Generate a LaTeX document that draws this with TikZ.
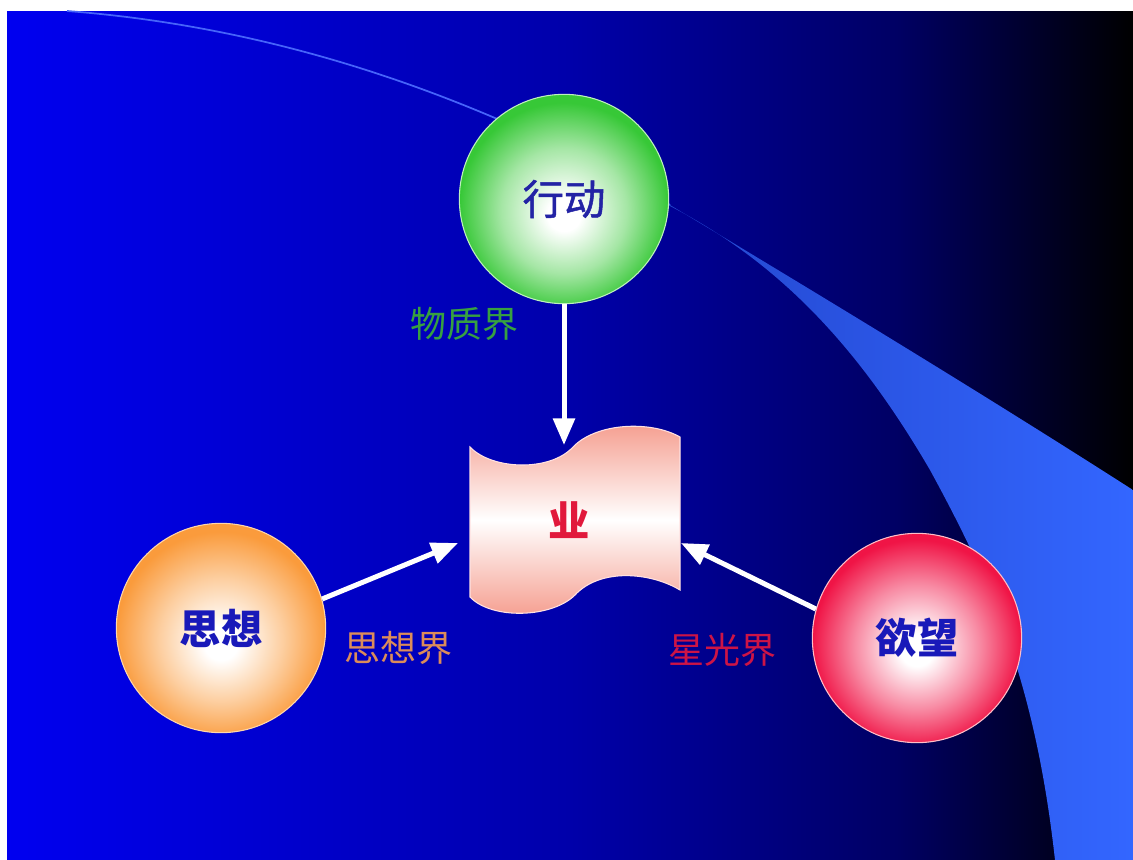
\documentclass[tikz,border=0pt]{standalone}
\usepackage{fontspec}
\newfontfamily\cjk{Noto Sans CJK SC}
\newfontfamily\cjkm{Noto Sans CJK SC}[FakeBold=1.2]
\usetikzlibrary{arrows.meta}
\definecolor{bgA}{RGB}{0,0,240}
\definecolor{bgB}{RGB}{0,0,170}
\definecolor{bgC}{RGB}{0,0,100}
\definecolor{bgD}{RGB}{0,0,0}
\definecolor{bandA}{RGB}{35,70,205}
\definecolor{bandB}{RGB}{51,102,255}
\definecolor{thinline}{RGB}{70,100,250}
\definecolor{ballG}{RGB}{55,200,55}
\definecolor{ballO}{RGB}{250,155,60}
\definecolor{ballR}{RGB}{240,20,70}
\definecolor{edgeG}{RGB}{190,240,190}
\definecolor{edgeO}{RGB}{255,215,170}
\definecolor{edgeR}{RGB}{255,190,200}
\definecolor{paperpink}{RGB}{245,155,140}
\definecolor{paperedge}{RGB}{255,225,225}
\definecolor{txtblue}{RGB}{25,25,185}
\definecolor{txtred}{RGB}{225,25,60}
\definecolor{labG}{RGB}{55,160,65}
\definecolor{labO}{RGB}{220,140,90}
\definecolor{labR}{RGB}{205,20,70}
\pgfdeclarehorizontalshading{bgshade}{100bp}{color(0bp)=(bgA); color(25bp)=(bgA); color(50bp)=(bgB); color(64.5bp)=(bgC); color(75bp)=(bgD); color(100bp)=(bgD)}
\pgfdeclareradialshading{ballgreen}{\pgfpoint{0bp}{-4bp}}{color(0bp)=(white); color(4bp)=(white); color(15bp)=(ballG!45!white); color(25bp)=(ballG); color(50bp)=(ballG)}
\pgfdeclareradialshading{ballorange}{\pgfpoint{0bp}{-4bp}}{color(0bp)=(white); color(4bp)=(white); color(15bp)=(ballO!50!white); color(25bp)=(ballO); color(50bp)=(ballO)}
\pgfdeclareradialshading{ballred}{\pgfpoint{0bp}{-3bp}}{color(0bp)=(white); color(4bp)=(white); color(15bp)=(ballR!50!white); color(25bp)=(ballR); color(50bp)=(ballR)}
\tikzset{
  ball/.style={circle, minimum size=157pt, inner sep=0pt, line width=0.8pt, font=\cjk\bfseries\fontsize{31}{31}\selectfont, text=txtblue},
  lab/.style={font=\cjk\fontsize{27}{27}\selectfont, inner sep=0pt},
  arr/.style={draw=white, line width=3.75pt, -{Triangle[length=20pt,width=16pt]}}
}
\begin{document}
\begin{tikzpicture}[x=0.75pt,y=-0.75pt]
\useasboundingbox (0,0) rectangle (1133,860);
\fill[white] (0,0) rectangle (1133,860);
\shade[shading=bgshade] (7,11) rectangle (1133,860);
% thin arc
\draw[thinline, line width=1.3pt] (67,11) .. controls (250,25) and (450,80) .. (670,205);
% light band
\shade[left color=bandA, right color=bandB]
  (660,199) .. controls (820,295) and (980,392) .. (1133,490)
  -- (1133,860) -- (1055,860)
  .. controls (1035,680) and (990,580) .. (930,470)
  .. controls (860,350) and (780,260) .. (660,201) -- cycle;
% balls
\node[ball, shading=ballgreen, draw=edgeG, font=\cjkm\fontsize{31}{31}\selectfont, text={rgb,255:red,35;green,35;blue,165}] (g) at (564,199) {行动};
\node[ball, shading=ballorange, draw=edgeO] (o) at (221,628) {思想};
\node[ball, shading=ballred, draw=edgeR] (r) at (917,638) {欲望};
% paper
\shade[top color=paperpink, bottom color=paperpink, middle color=white, draw=paperedge, line width=0.8pt]
  (470,447) .. controls (492,470) and (550,472) .. (573,447)
  .. controls (596,423) and (650,420) .. (680,437) -- (680,590)
  .. controls (650,572) and (600,568) .. (575,595)
  .. controls (552,618) and (492,620) .. (470,597) -- cycle;
\node[font=\cjk\bfseries\fontsize{31}{31}\selectfont, text=txtred, inner sep=0pt] (p) at (569,520) {业};
% arrow targets
\coordinate (ptop) at (564,445);
\coordinate (pleft) at (458,543);
\coordinate (pright) at (681,543);
\draw[arr] (g.south) -- (ptop);
\draw[arr] (o.16) -- (pleft);
\draw[arr] (r.164) -- (pright);
% labels
\node[lab, text=labG] (lg) at (464,324) {物质界};
\node[lab, text=labO] (lo) at (398,648) {思想界};
\node[lab, text=labR] (lr) at (722,650) {星光界};
\end{tikzpicture}
\end{document}
